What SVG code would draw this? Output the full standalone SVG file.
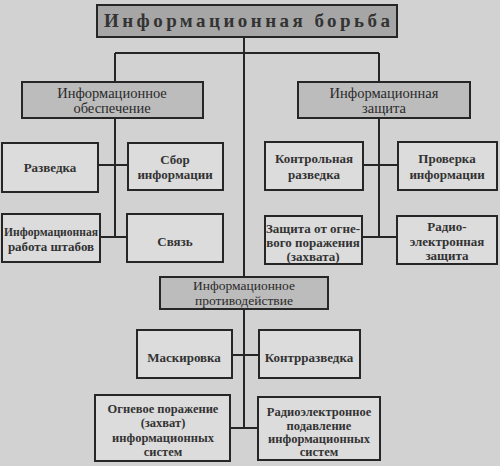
<svg xmlns="http://www.w3.org/2000/svg" width="500" height="466" viewBox="0 0 500 466" font-family="'Liberation Serif', 'DejaVu Serif', serif">
<style>
.bg{fill:#d2d2d2}
.top{fill:#a6a6a6;stroke:#262626;stroke-width:2}
.l1{fill:#bcbcbc;stroke:#262626;stroke-width:2}
.leaf{fill:#dcdcdc;stroke:#262626;stroke-width:2}
.ln{stroke:#262626;stroke-width:2;fill:none}
text{font-family:'Liberation Serif','DejaVu Serif',serif;font-weight:bold;fill:#333;text-anchor:middle;font-size:13px}
.t{font-size:19px;font-weight:bold}
.m{font-size:14.5px;font-weight:normal;fill:#2a2a2a}
.p{font-size:13.5px}
.s{font-size:12.5px}
</style>
<rect class="bg" x="0" y="0" width="500" height="466"/>
<g id="connectors">
<path class="ln" d="M244 37V428M115 53H379M115 53V237M379 53V237M98 165H128M100 237H127M363 165H398M362 237H397M232 355H259M230 428H258"/>
</g>
<g id="n-top"><rect class="top" x="97" y="5" width="300" height="32"/><text class="t" x="247" y="27" textLength="286" lengthAdjust="spacing">Информационная борьба</text></g>
<g id="n-obesp"><rect class="l1" x="22" y="82" width="181" height="36"/><text class="m" x="112" y="98">Информационное</text><text class="m" x="112" y="113">обеспечение</text></g>
<g id="n-zash"><rect class="l1" x="298" y="82" width="172" height="36"/><text class="m" x="384" y="98">Информационная</text><text class="m" x="384" y="113">защита</text></g>
<g id="n-razv"><rect class="leaf" x="2" y="143" width="96" height="49"/><text x="50" y="172">Разведка</text></g>
<g id="n-sbor"><rect class="leaf" x="128" y="143" width="95" height="47"/><text x="175" y="164">Сбор</text><text x="175" y="179">информации</text></g>
<g id="n-kontr"><rect class="leaf" x="265" y="142" width="98" height="48"/><text x="314" y="163">Контрольная</text><text x="314" y="179">разведка</text></g>
<g id="n-prov"><rect class="leaf" x="398" y="142" width="99" height="48"/><text x="447" y="163">Проверка</text><text x="447" y="179">информации</text></g>
<g id="n-rab"><rect class="leaf" x="2" y="214" width="98" height="48"/><text x="51" y="236" textLength="94" lengthAdjust="spacingAndGlyphs">Информационная</text><text x="51" y="251">работа штабов</text></g>
<g id="n-svyaz"><rect class="leaf" x="127" y="214" width="96" height="48"/><text x="175" y="246">Связь</text></g>
<g id="n-zog"><rect class="leaf" x="265" y="216" width="97" height="48"/><text x="313" y="233">Защита от огне-</text><text x="313" y="247">вого поражения</text><text x="313" y="261">(захвата)</text></g>
<g id="n-rez"><rect class="leaf" x="397" y="216" width="100" height="48"/><text x="447" y="231">Радио-</text><text x="447" y="246">электронная</text><text x="447" y="260">защита</text></g>
<g id="n-prot"><rect class="l1" x="160" y="277" width="168" height="32"/><text class="m p" x="244" y="290">Информационное</text><text class="m p" x="244" y="305">противодействие</text></g>
<g id="n-mask"><rect class="leaf" x="137" y="330" width="95" height="48"/><text x="184" y="362">Маскировка</text></g>
<g id="n-krazv"><rect class="leaf" x="259" y="330" width="101" height="48"/><text x="309" y="362">Контрразведка</text></g>
<g id="n-ogn"><rect class="leaf" x="95" y="395" width="135" height="66"/><text class="s" x="163" y="413">Огневое поражение</text><text class="s" x="163" y="427">(захват)</text><text class="s" x="163" y="442">информационных</text><text class="s" x="163" y="456">систем</text></g>
<g id="n-rep"><rect class="leaf" x="258" y="397" width="122" height="63"/><text class="s" x="319" y="416">Радиоэлектронное</text><text class="s" x="319" y="430">подавление</text><text class="s" x="319" y="443">информационных</text><text class="s" x="319" y="456">систем</text></g>
</svg>
